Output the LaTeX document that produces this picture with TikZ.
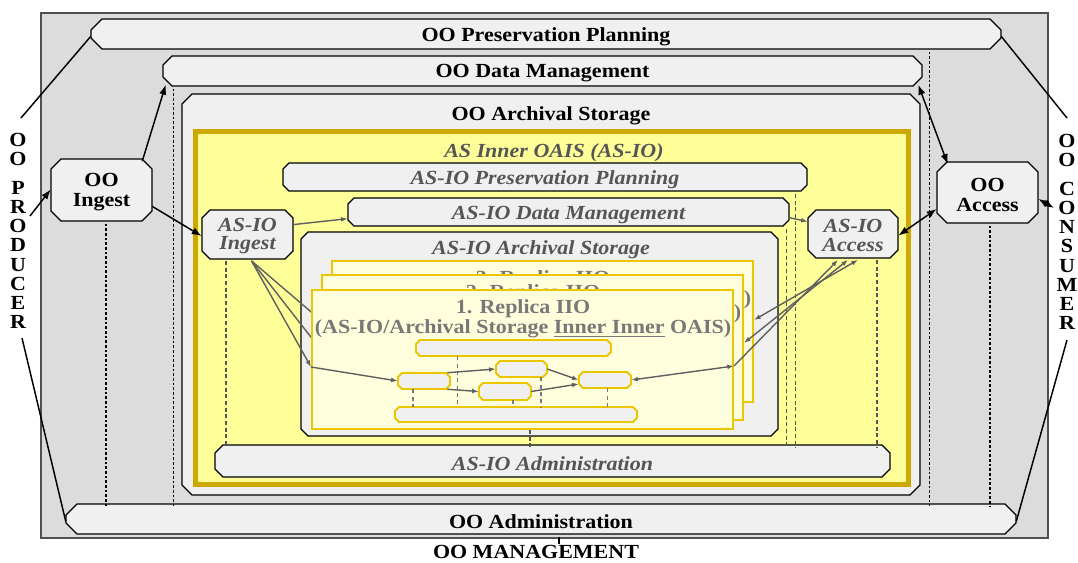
\documentclass[tikz,border=0pt]{standalone}
\usepackage{fontspec}
\setmainfont{Liberation Serif}[FakeStretch=1.1]
\usetikzlibrary{arrows.meta,calc}

\definecolor{outerfill}{RGB}{220,220,220}
\definecolor{outerdraw}{RGB}{80,80,80}
\definecolor{boxfill}{RGB}{240,240,240}
\definecolor{asfill}{RGB}{255,255,153}
\definecolor{asdraw}{RGB}{204,168,0}
\definecolor{repfill}{RGB}{255,255,221}
\definecolor{repdraw}{RGB}{236,198,0}
\definecolor{iotext}{RGB}{85,85,85}
\definecolor{reptext}{RGB}{120,120,120}
\definecolor{greyline}{RGB}{95,95,95}

% octagonal outline: style, x1, y1, x2, y2, corner cut
\newcommand\chamfpath[6]{%
  \path[#1] (#2+#6,#3) -- (#4-#6,#3) -- (#4,#3+#6) -- (#4,#5-#6) -- (#4-#6,#5)
    -- (#2+#6,#5) -- (#2,#5-#6) -- (#2,#3+#6) -- cycle;}
% named box with cut corners: name, x1, y1, x2, y2, cut, outline style, text style, text
\newcommand\chamfbox[9]{%
  \chamfpath{#7}{#2}{#3}{#4}{#5}{#6}
  \node[#8, inner sep=0pt, minimum width={(#4-#2)*0.75pt}, minimum height={(#5-#3)*0.75pt}]
    (#1) at ({(#2+#4)/2},{(#3+#5)/2}) {#9};}

\tikzset{
  oobox/.style={draw=black, fill=boxfill, line width=0.9pt},
  inbox/.style={draw=repdraw, fill=boxfill, line width=1.4pt},
  oot/.style={font=\bfseries\fontsize{15}{15}\selectfont, text=black, inner sep=1pt, yshift=-1.8pt},
  aiot/.style={font=\bfseries\itshape\fontsize{15}{14}\selectfont, text=iotext, inner sep=1pt, yshift=-2pt},
  rept/.style={font=\bfseries\fontsize{15}{15}\selectfont, text=reptext, inner sep=1pt, align=center},
  letters/.style={font=\bfseries\fontsize{15}{14.4}\selectfont, text=black, inner sep=1pt, align=center},
  replica/.style={draw=repdraw, fill=repfill, line width=1.5pt, inner sep=0pt},
  conn/.style={line width=1.1pt, draw=black},
  arr/.style={conn, -{Latex[length=7.5pt,width=5.5pt]}},
  darr/.style={conn, {Latex[length=7.5pt,width=5.5pt]}-{Latex[length=7.5pt,width=5.5pt]}},
  garr/.style={line width=1.05pt, draw=greyline, -{Latex[length=5pt,width=3.6pt]}},
  gdarr/.style={line width=1.05pt, draw=greyline, {Latex[length=5pt,width=3.6pt]}-{Latex[length=5pt,width=3.6pt]}},
  oodash/.style={draw=black, line width=1pt, dash pattern=on 2pt off 1.5pt},
  iodash/.style={draw=iotext, line width=0.9pt, dash pattern=on 3pt off 2pt},
  indash/.style={draw=reptext, line width=0.9pt, dash pattern=on 3pt off 2.5pt},
}

\begin{document}
\begin{tikzpicture}[x=0.75pt, y=-0.75pt]
\path[fill=white] (0,0) rectangle (1078,563);
\useasboundingbox (0,0) rectangle (1078,563);

% outer frame
\path[fill=outerfill, draw=outerdraw, line width=1.1pt] (41,13) rectangle (1048,538);

% outer functional entities
\chamfbox{oopp}{91}{19}{1001}{49}{11}{oobox}{oot}{OO Preservation Planning}
\chamfbox{oodm}{163}{56}{922}{86}{9}{oobox}{oot}{OO Data Management}
\chamfbox{ooas}{182}{94}{920}{495}{10}{oobox}{}{}
\node[oot] (ooastitle) at (551,113) {OO Archival Storage};
\chamfbox{ooadm}{66}{504}{1016}{534}{11}{oobox}{oot}{OO Administration}
\chamfbox{ooing}{51}{159}{152}{221}{10}{oobox}{oot, align=center}{OO\\Ingest}
\chamfbox{ooacc}{937}{162}{1038}{223}{10}{oobox}{oot, align=center}{OO\\Access}

% outer management lines
\draw[oodash] ($(ooing.south)+(4.5,0)$) coordinate (d1) -- (d1 |- ooadm.north);
\draw[oodash] ($(oodm.south west)+(11,0)$) coordinate (d2) -- (d2 |- ooadm.north);
\draw[oodash] ($(oopp.south east)+(-72,0)$) coordinate (d3) -- (d3 |- ooadm.north);
\draw[oodash] ($(ooacc.south)+(2.5,0)$) coordinate (d4) -- (d4 |- ooadm.north);

% inner OAIS of archival storage
\node[draw=asdraw, fill=asfill, line width=3.75pt, inner sep=0pt,
      minimum width=535.1pt, minimum height=265.1pt] (asio) at (552.25,307.75) {};
\node[aiot] (asiotitle) at (554,150) {AS Inner OAIS (AS-IO)};

\chamfbox{aiopp}{283}{163}{807}{191}{6}{oobox}{aiot}{AS-IO Preservation Planning}
\chamfbox{aiodm}{348}{198}{789}{226}{6}{oobox}{aiot}{AS-IO Data Management}
\chamfbox{aioadm}{215}{445}{890}{477}{8}{oobox}{aiot}{AS-IO Administration}

\draw[iodash] ($(aiodm.south east)+(-3,0)$) coordinate (e2) -- (e2 |- aioadm.north);
\draw[iodash] ($(aiopp.south east)+(-12,0)$) coordinate (e3) -- (e3 |- aioadm.north);

\chamfbox{aioas}{301}{232}{778}{436}{7}{oobox}{}{}
\node[aiot] (aioastitle) at (541,247) {AS-IO Archival Storage};
\chamfbox{aioing}{202}{210}{293}{259}{8}{oobox}{aiot, align=center, yshift=0.8pt}{AS-IO\\Ingest}
\chamfbox{aioacc}{808}{210}{898}{258}{8}{oobox}{aiot, align=center, yshift=0.8pt}{AS-IO\\Access}

\draw[iodash] ($(aioing.south)+(-21.5,0)$) coordinate (e1) -- (e1 |- aioadm.north);
\draw[iodash] ($(aioacc.south)+(24,0)$) coordinate (e4) -- (e4 |- aioadm.north);

% replicas, back to front
\node[replica, minimum width=315.75pt, minimum height=105.75pt] (r3) at (542.5,331.5) {};
\node[rept] (r3t) at (543,290) {3. Replica IIO\\(AS-IO/Archival Storage \underline{Inner Inner} OAIS)};
\node[replica, minimum width=315.75pt, minimum height=108.75pt] (r2) at (532.5,347.5) {};
\node[rept] (r2t) at (533,304) {2. Replica IIO\\(AS-IO/Archival Storage \underline{Inner Inner} OAIS)};

\coordinate (fan) at ($(aioing.south)+(4,0)$);
\coordinate (r3L) at ($(r3.west)+(0,-2.5)$);
\coordinate (r2L) at ($(r2.west)+(0,2.5)$);
\draw[garr] (fan) -- (r3L);
\draw[garr] (fan) -- (r2L);

\node[replica, minimum width=315.75pt, minimum height=104.25pt] (r1) at (522.5,359.5) {};
\node[rept] (r1t) at (523,319) {1. Replica IIO\\(AS-IO/Archival Storage \underline{Inner Inner} OAIS)};

\coordinate (r1L) at ($(r1.west)+(0,7.5)$);
\coordinate (r1R) at ($(r1.east)+(0,6.5)$);
\coordinate (r2R) at ($(r2.east)+(0,-4.5)$);
\coordinate (r3R) at ($(r3.east)+(0,-11.5)$);

% replica internals
\chamfbox{ipp}{416}{340}{611}{356}{4}{inbox}{}{}
\chamfbox{iadm}{395}{407}{637}{422}{4}{inbox}{}{}
\draw[indash] ($(ipp.south)+(-55.8,0)$) coordinate (f0) -- (f0 |- iadm.north);
\chamfbox{ina}{398}{373}{450}{389}{4}{inbox}{}{}
\chamfbox{inb}{496}{361}{547}{377}{4}{inbox}{}{}
\chamfbox{inc}{479}{383}{531}{400}{4}{inbox}{}{}
\chamfbox{ind}{579}{372}{631}{388}{4}{inbox}{}{}
\draw[indash] ($(ina.south)+(-11,0)$) coordinate (f1) -- (f1 |- iadm.north);
\draw[indash] ($(inc.south)+(8,0)$) coordinate (f2) -- (f2 |- iadm.north);
\draw[indash] ($(inb.south)+(19.5,0)$) coordinate (f3) -- (f3 |- iadm.north);
\draw[indash] ($(ind.south)+(2.5,0)$) coordinate (f4) -- (f4 |- iadm.north);
\draw[iodash] ($(r1.south)+(7.5,0)$) coordinate (f5) -- (f5 |- aioadm.north);

\draw[garr] (fan) -- (r1L);
\draw[garr] (r1L) -- (ina.west);
\draw[garr] ($(ina.north east)+(-3,0)$) -- (inb.west);
\draw[garr] ($(ina.south east)+(-3,0)$) -- (inc.west);
\draw[garr] (inb.east) -- (ind.west);
\draw[garr] (inc.east) -- ($(ind.west)+(0,4)$);
\draw[gdarr] (ind.east) -- (r1R);

% inner OAIS flows
\draw[garr] ($(aioing.east)+(0,-11.5)$) -- ($(aiodm.west)+(0,4)$);
\draw[garr] ($(aiodm.east)+(0,3)$) -- ($(aioacc.west)+(0,-14)$);
\draw[garr] (r1R) -- ($(aioacc.south)+(-15,0)$);
\draw[gdarr] (r2R) -- ($(aioacc.south)+(-5,0)$);
\draw[gdarr] (r3R) -- ($(aioacc.south)+(5,0)$);

% producer and consumer
\node[letters] (producer) at (18,231) {O\\O\\[7pt]P\\R\\O\\D\\U\\C\\E\\R};
\node[letters] (consumer) at (1067,232) {O\\O\\[7pt]C\\O\\N\\S\\U\\M\\E\\R};
\coordinate (prodA) at (21,118);
\coordinate (prodB) at (22,338);
\coordinate (prodC) at (30,216);
\coordinate (consA) at (1067,118);
\coordinate (consB) at (1067,340);
\coordinate (consC) at (1054,208);

\draw[conn] (prodA) -- (oopp.west);
\draw[conn] (prodB) -- (ooadm.west);
\draw[arr] (prodC) -- ($(ooing.west)+(0,-3)$);
\draw[arr] ($(ooing.north east)+(-10,0)$) -- ($(oodm.south west)+(3,-4)$);
\draw[arr] ($(ooing.east)+(0,14)$) -- (aioing.west);
\draw[darr] ($(oodm.south east)+(-4,-4)$) -- ($(ooacc.north west)+(11,0)$);
\draw[darr] ($(ooacc.west)+(0,14)$) -- (aioacc.east);
\draw[darr] ($(ooacc.east)+(0,4)$) -- (consC);
\draw[conn] (oopp.east) -- (consA);
\draw[conn] (consB) -- (ooadm.east);

% management label
\node[oot] (mgmt) at (536,549.5) {OO MANAGEMENT};
\draw[conn] ($(ooadm.south)+(18,0)$) coordinate (t) -- (t |- mgmt.north);
\end{tikzpicture}
\end{document}
